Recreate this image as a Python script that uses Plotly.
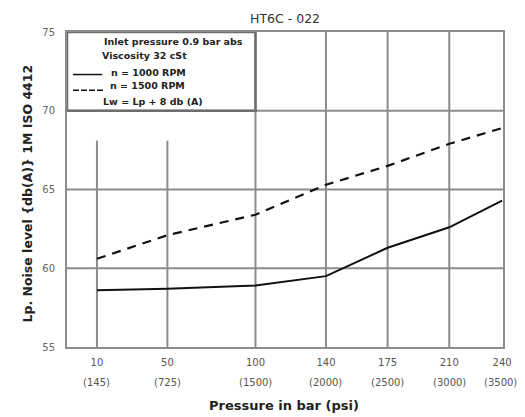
import plotly.graph_objects as go

# ---- data ----
pressure_bar = [10, 50, 100, 140, 175, 210, 240]
pressure_psi = ["145", "725", "1500", "2000", "2500", "3000", "3500"]
noise_1000 = [58.6, 58.7, 58.9, 59.5, 61.3, 62.6, 64.3]
noise_1500 = [60.6, 62.1, 63.4, 65.3, 66.5, 67.9, 68.9]
y_ticks = [55, 60, 65, 70, 75]
full_grid_x = [100, 140, 175, 210]
short_grid_x = [10, 50]
grid_y = [60, 65, 70]

GRID = "#8c8c8c"
TXT = "#222222"
FONT = "DejaVu Sans"

fig = go.Figure()
fig.add_trace(go.Scatter(x=pressure_bar, y=noise_1000, mode="lines",
                         line=dict(color="#111111", width=2), name="n = 1000 RPM"))
fig.add_trace(go.Scatter(x=pressure_bar, y=noise_1500, mode="lines",
                         line=dict(color="#111111", width=2.2, dash="9px,7px"), name="n = 1500 RPM"))

shapes = []
for gx in full_grid_x:
    shapes.append(dict(type="line", xref="x", yref="y", x0=gx, x1=gx, y0=55, y1=75,
                       line=dict(color=GRID, width=2), layer="below"))
for gx in short_grid_x:
    shapes.append(dict(type="line", xref="x", yref="y", x0=gx, x1=gx, y0=55, y1=68.1,
                       line=dict(color=GRID, width=2), layer="below"))
for gy in grid_y:
    shapes.append(dict(type="line", xref="paper", yref="y", x0=0, x1=1, y0=gy, y1=gy,
                       line=dict(color=GRID, width=2), layer="below"))
# legend box
shapes.append(dict(type="rect", xref="x", yref="y", x0=-7, x1=100, y0=70, y1=75,
                   line=dict(color="#6e6e6e", width=2.5), fillcolor="rgba(0,0,0,0)"))
# legend line samples
shapes.append(dict(type="line", xref="x", yref="y", x0=-3.6, x1=13.0, y0=72.3, y1=72.3,
                   line=dict(color="#111111", width=1.5)))
shapes.append(dict(type="line", xref="x", yref="y", x0=-3.6, x1=14.5, y0=71.3, y1=71.3,
                   line=dict(color="#111111", width=1.5, dash="6px,2px")))

legend_lines = [
    ("Inlet pressure 0.9 bar abs", 13.0, 74.4),
    ("Viscosity 32 cSt", 11.7, 73.5),
    ("n = 1000 RPM", 16.8, 72.45),
    ("n = 1500 RPM", 16.5, 71.6),
    ("Lw = Lp + 8 db (A)", 12.5, 70.6),
]
annotations = []
for txt, xx, yy in legend_lines:
    annotations.append(dict(x=xx, y=yy, xref="x", yref="y", text=txt, showarrow=False,
                            xanchor="left", yanchor="middle",
                            font=dict(family=FONT, size=9.5, color=TXT, weight="bold")))
# psi row under the bar tick labels
for b, p in zip(pressure_bar, pressure_psi):
    annotations.append(dict(x=b, y=0, xref="x", yref="paper", text=f"({p})", showarrow=False,
                            xanchor="center", yanchor="middle", yshift=-35,
                            xshift=-2 if b == pressure_bar[-1] else 0,
                            font=dict(family=FONT, size=10, color="#555555")))
# title and axis titles
annotations.append(dict(x=0.5, y=1, xref="paper", yref="paper", text="HT6C - 022",
                        showarrow=False, xanchor="center", yanchor="middle", yshift=14,
                        font=dict(family=FONT, size=12.5, color="#333333")))
annotations.append(dict(x=0.497, y=0, xref="paper", yref="paper", text="Pressure in bar (psi)",
                        showarrow=False, xanchor="center", yanchor="middle", yshift=-58,
                        font=dict(family=FONT, size=13, color=TXT, weight="bold")))
annotations.append(dict(x=0, y=0.5, xref="paper", yref="paper",
                        text="Lp. Noise level {db(A)} 1M ISO 4412", textangle=-90,
                        showarrow=False, xanchor="center", yanchor="middle", xshift=-40,
                        yshift=-4,
                        font=dict(family=FONT, size=12.5, color=TXT, weight="bold")))

fig.update_layout(
    width=525, height=417,
    margin=dict(l=67, r=22, t=32, b=70),
    paper_bgcolor="white", plot_bgcolor="white",
    showlegend=False,
    shapes=shapes,
    annotations=annotations,
    xaxis=dict(range=[-7, 240.5], tickvals=pressure_bar,
               ticktext=[str(b) for b in pressure_bar],
               showgrid=False, zeroline=False, showline=True, mirror=True,
               linecolor=GRID, linewidth=2, ticks="", ticklabelstandoff=5,
               tickfont=dict(family=FONT, size=10, color="#555555")),
    yaxis=dict(range=[55, 75], tickvals=y_ticks, showgrid=False, zeroline=False,
               showline=True, mirror=True, linecolor=GRID, linewidth=2, ticks="",
               ticklabelstandoff=8,
               tickfont=dict(family=FONT, size=10, color="#666666")),
)

fig.write_html("out.html", config={"displayModeBar": False},
               post_script="document.body.style.margin='0';document.body.style.overflow='hidden';")
